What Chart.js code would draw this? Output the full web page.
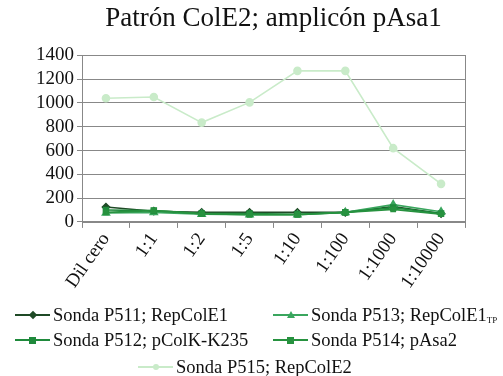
<!DOCTYPE html>
<html>
<head>
<meta charset="utf-8">
<script src="https://cdn.jsdelivr.net/npm/chart.js@4/dist/chart.umd.min.js"></script>
<style>
  html, body { margin: 0; padding: 0; background: #fff; }
  #wrap { width: 503px; height: 294px; position: relative; }
  #legend { position: absolute; left: 0; top: 290px; width: 503px; height: 86px; font-family: "Liberation Serif", "Times New Roman", Times, serif; font-size: 18.5px; color: #111; }
  .item { position: absolute; display: flex; align-items: center; white-space: nowrap; height: 20px; }
  .key { position: relative; width: 35px; height: 20px; margin-right: 3px; }
  .key .ln { position: absolute; left: 0; right: 0; top: 9px; height: 2px; }
  .key .mk { position: absolute; left: 50%; top: 50%; }
  sub { font-size: 9px; vertical-align: -2px; }
</style>
</head>
<body>
<div id="wrap"><canvas id="myChart"></canvas></div>
<div id="legend"></div>
<script>
var labels = ["Dil cero", "1:1", "1:2", "1:5", "1:10", "1:100", "1:1000", "1:10000"];

var p511 = [125, 90, 80, 80, 80, 80, 130, 70];
var p513 = [75, 80, 65, 60, 60, 80, 145, 85];
var p512 = [100, 95, 70, 70, 65, 80, 120, 70];
var p514 = [80, 95, 70, 60, 60, 80, 105, 65];
var p515 = [1040, 1050, 835, 1005, 1270, 1270, 620, 320];

var yTicks = [0, 200, 400, 600, 800, 1000, 1200, 1400];

var serif = "'Liberation Serif', 'Times New Roman', Times, serif";

var series = [
  { label: "Sonda P511; RepColE1", sub: "", data: p511, color: "#1f4a26", style: "rectRot", r: 3.5 },
  { label: "Sonda P513; RepColE1", sub: "TP", data: p513, color: "#3aa65e", style: "triangle", r: 4 },
  { label: "Sonda P512; pColK-K235", sub: "", data: p512, color: "#1f8a3c", style: "rect", r: 3.5 },
  { label: "Sonda P514; pAsa2", sub: "", data: p514, color: "#27923f", style: "rect", r: 3 },
  { label: "Sonda P515; RepColE2", sub: "", data: p515, color: "#c9ebc9", style: "circle", r: 3.5 }
];

// box around the plot area
var frame = {
  id: "frame",
  afterDraw(chart) {
    var a = chart.chartArea, c = chart.ctx;
    c.save();
    c.strokeStyle = "#888";
    c.lineWidth = 1;
    c.strokeRect(Math.round(a.left) + 0.5, Math.round(a.top) + 0.5, Math.round(a.right - a.left), Math.round(a.bottom - a.top));
    c.restore();
  }
};

var ctx = document.getElementById("myChart").getContext("2d");
var myChart = new Chart(ctx, {
  type: "line",
  data: {
    labels: labels,
    datasets: series.map(s => ({
      label: s.label,
      data: s.data,
      borderColor: s.color,
      backgroundColor: s.color,
      borderWidth: 1.6,
      pointStyle: s.style,
      pointRadius: s.r,
      pointHoverRadius: s.r,
      tension: 0
    })).reverse()
  },
  options: {
    responsive: true,
    maintainAspectRatio: false,
    animation: false,
    layout: { padding: { left: 33, right: 38, top: 2, bottom: 0 } },
    plugins: {
      legend: { display: false },
      tooltip: { enabled: false },
      title: {
        display: true,
        fullSize: false,
        text: "Patrón ColE2; amplicón pAsa1",
        color: "#111",
        font: { family: serif, size: 27, weight: "normal" },
        padding: { top: 1, bottom: 20 }
      }
    },
    scales: {
      x: {
        offset: true,
        grid: { offset: true, drawOnChartArea: false, drawTicks: true, tickLength: 6, color: "#888" },
        border: { color: "#888" },
        ticks: {
          color: "#111",
          font: { family: serif, size: 19 },
          minRotation: 55,
          maxRotation: 55,
          autoSkip: false,
          padding: 1
        }
      },
      y: {
        min: 0,
        max: 1400,
        afterBuildTicks: axis => { axis.ticks = yTicks.map(v => ({ value: v })); },
        grid: { color: "#888", tickLength: 5 },
        border: { color: "#888" },
        ticks: {
          color: "#111",
          font: { family: serif, size: 19 },
          autoSkip: false,
          padding: 3,
          callback: v => String(v)
        }
      }
    }
  },
  plugins: [frame]
});

// legend laid out as two columns with the last entry centred
var spots = [
  [15, 315], [273, 315],
  [15, 340], [273, 340],
  [138, 367]
];
var legend = document.getElementById("legend");
series.forEach((s, i) => {
  var item = document.createElement("div");
  item.className = "item";
  item.style.left = spots[i][0] + "px";
  item.style.top = (spots[i][1] - 290 - 10) + "px";
  var key = document.createElement("span");
  key.className = "key";
  var ln = document.createElement("span");
  ln.className = "ln";
  ln.style.background = s.color;
  key.appendChild(ln);
  var mk = document.createElement("span");
  mk.className = "mk";
  if (s.style === "triangle") {
    mk.style.cssText += "width:0;height:0;border-left:4px solid transparent;border-right:4px solid transparent;border-bottom:7px solid " + s.color + ";margin:-4px 0 0 -4px;";
  } else {
    var d = s.style === "rect" ? 7 : 6;
    mk.style.width = d + "px";
    mk.style.height = d + "px";
    mk.style.margin = (-d / 2) + "px 0 0 " + (-d / 2) + "px";
    mk.style.background = s.color;
    if (s.style === "circle") mk.style.borderRadius = "50%";
    if (s.style === "rectRot") mk.style.transform = "rotate(45deg)";
  }
  key.appendChild(mk);
  item.appendChild(key);
  var txt = document.createElement("span");
  txt.innerHTML = s.label + (s.sub ? "<sub>" + s.sub + "</sub>" : "");
  item.appendChild(txt);
  legend.appendChild(item);
});
</script>
</body>
</html>
